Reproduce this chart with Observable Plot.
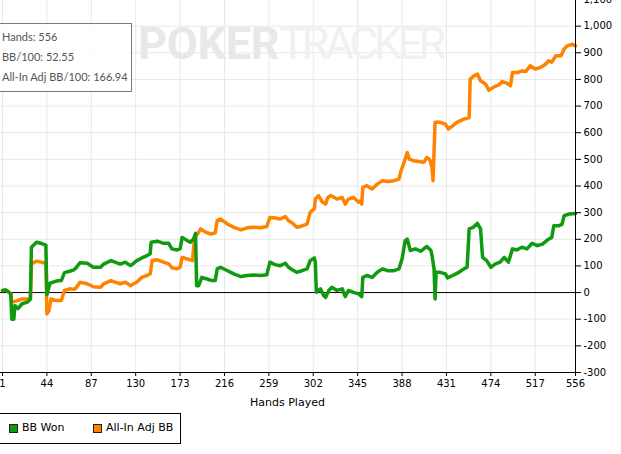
<!DOCTYPE html>
<html>
<head>
<meta charset="utf-8">
<script src="https://cdn.jsdelivr.net/npm/d3@7"></script>
<script src="https://cdn.jsdelivr.net/npm/@observablehq/plot@0.6"></script>
<style>
  html, body { margin: 0; padding: 0; background: #fff; }
  #wrap { position: relative; width: 621px; height: 454px; overflow: hidden; }
  #chart { position: absolute; left: 0; top: -1px; }
  .ov { position: absolute; font-family: "DejaVu Sans", sans-serif; }
</style>
</head>
<body>
<div id="wrap">
  <div id="chart"></div>
  <div class="ov" id="wm" style="left:138px; top:14px; font-family:Roboto, sans-serif; font-size:45px; white-space:nowrap; line-height:60px;">
    <span style="font-weight:bold; color:#e8e8e8; letter-spacing:-0.3px;">POKER</span><span style="color:#f1f1f1; letter-spacing:-4.6px;">TRACKER</span>
  </div>
  <div class="ov" id="stats" style="left:-1px; top:23px; width:133px; height:69px; border:1px solid #7a7a7a; background:rgba(255,255,255,0.85); font-family:Lato, sans-serif; font-size:11px; color:#555; box-sizing:border-box; padding-top:3px; padding-left:2px; line-height:20px; white-space:nowrap;"></div>
  <div class="ov" id="xlabel" style="left:0; width:575px; top:396px; text-align:center; font-size:11px; color:#000;"></div>
  <div class="ov" id="legend" style="left:-1px; top:413px; width:182px; height:31px; border:1px solid #000; box-sizing:border-box; font-size:11px; color:#000;"></div>
</div>
<script>
// ---- data ----
const seriesNames = ["BB Won", "All-In Adj BB"];
const seriesColors = ["#0f9a0f", "#ff8200"];
const xTicks = [1, 44, 87, 130, 173, 216, 259, 302, 345, 388, 431, 474, 517, 556];
const yTicks = [-300, -200, -100, 0, 100, 200, 300, 400, 500, 600, 700, 800, 900, 1000, 1100];
const statsLines = ["Hands: 556", "BB/100: 52.55", "All-In Adj BB/100: 166.94"];
const xLabel = "Hands Played";

const bbWonHands = [1,4,6,9,10,12,13,16,20,25,28,29,34,39,43,44,47,53,58,61,66,70,72,76,83,89,96,99,106,110,115,120,125,128,131,136,141,144,145,151,157,162,165,170,173,175,180,183,186,188,189,191,194,199,204,207,209,212,219,225,232,238,244,251,257,260,265,270,275,278,282,286,291,296,299,303,304,305,309,312,314,317,320,325,330,333,336,341,346,349,350,354,359,364,369,374,380,385,388,391,393,396,401,406,409,412,416,417,419,420,421,425,430,432,437,443,448,451,453,457,461,464,466,470,474,478,483,487,491,495,499,504,509,514,519,524,529,533,535,540,543,545,550,556];
const bbWonValues = [8,10,5,-5,-100,-100,-49,-60,-42,-36,-25,170,189,184,178,-8,35,43,45,75,80,85,92,112,110,95,95,107,120,114,107,114,101,110,120,130,139,145,189,193,185,185,164,160,164,207,195,189,201,222,26,26,57,51,45,45,89,95,82,70,60,64,66,64,67,114,105,101,110,95,85,76,82,89,120,130,114,1,14,-11,-18,8,20,8,14,-15,8,1,-5,-15,57,64,57,76,89,82,82,89,126,195,201,158,164,155,164,173,158,139,89,-24,76,76,70,55,64,76,89,95,239,245,260,239,132,120,95,107,114,132,114,164,160,170,164,185,176,182,198,207,251,251,257,289,295,297];

const adjHands = [1,4,6,9,10,13,16,20,28,29,34,39,43,44,46,48,53,58,61,66,70,72,76,83,89,96,99,106,110,115,120,125,128,131,136,141,144,146,151,157,162,165,170,173,175,180,185,187,190,193,198,203,207,209,212,219,225,232,238,244,251,257,260,265,270,275,278,282,286,291,296,299,303,304,307,311,314,316,319,325,330,333,336,341,346,348,349,350,354,359,364,369,374,380,385,387,390,393,395,399,404,409,412,415,417,418,420,425,430,433,437,441,448,453,454,458,461,464,469,472,477,482,485,489,493,495,500,504,508,512,517,522,527,530,533,537,542,545,548,553,556];
const adjValues = [8,10,5,-5,-36,-33,-30,-24,-24,107,118,114,110,-80,-68,-24,-30,-30,8,14,12,16,39,33,22,20,33,45,39,33,39,26,33,39,57,64,70,120,123,114,108,93,89,95,132,126,120,207,220,239,226,220,224,270,276,257,245,235,243,245,243,248,282,280,276,285,270,260,245,250,257,301,314,351,364,339,332,357,364,351,357,332,351,357,339,345,332,395,401,389,407,420,417,420,426,457,489,526,501,495,492,489,507,498,470,420,639,639,632,614,626,639,651,657,801,814,820,795,782,760,772,780,792,787,776,826,826,832,830,851,839,845,857,870,865,889,889,914,926,932,926];

// build tables
const bbWon = bbWonHands.map((h, i) => ({hand: h, bb: bbWonValues[i]}));
const adj = adjHands.map((h, i) => ({hand: h, bb: adjValues[i]}));

const fmt = d => (d < 0 ? "-" : "") + d3.format(",")(Math.abs(d));

const plot = Plot.plot({
  width: 621,
  height: 455,
  marginLeft: 0,
  marginRight: 46,
  marginTop: 0,
  marginBottom: 82,
  style: {fontFamily: "DejaVu Sans, sans-serif", fontSize: "10px", background: "transparent", color: "#000"},
  x: {domain: [-0.94, 556]},
  y: {domain: [-300, 1100]},
  marks: [
    Plot.gridX(xTicks, {stroke: "#e8e8e8", strokeOpacity: 1}),
    Plot.gridY(yTicks, {stroke: "#e8e8e8", strokeOpacity: 1}),
    Plot.ruleY([0], {stroke: "#000", strokeWidth: 1}),
    Plot.line(adj, {x: "hand", y: "bb", stroke: seriesColors[1], strokeWidth: 3.5, strokeLinejoin: "round"}),
    Plot.line(bbWon, {x: "hand", y: "bb", stroke: seriesColors[0], strokeWidth: 3.5, strokeLinejoin: "round"}),
    Plot.ruleY([-300], {stroke: "#000"}),
    Plot.ruleX([556], {stroke: "#000"}),
    Plot.axisX({ticks: xTicks, tickSize: 4, tickPadding: 3, tickFormat: d => String(d), label: null}),
    Plot.axisY({anchor: "right", ticks: yTicks, tickSize: 5, tickPadding: 3, tickFormat: fmt, label: null})
  ]
});
document.getElementById("chart").appendChild(plot);

// overlays
document.getElementById("stats").innerHTML = statsLines.map(s => `<div>${s}</div>`).join("");
document.getElementById("xlabel").textContent = xLabel;
document.getElementById("legend").innerHTML = seriesNames.map((n, i) =>
  `<span style="position:absolute; left:${i === 0 ? 9 : 93}px; top:10px; width:9px; height:9px; background:${seriesColors[i]}; border:1px solid #222; box-sizing:border-box;"></span>` +
  `<span style="position:absolute; left:${i === 0 ? 22 : 106}px; top:7px; line-height:14px; white-space:nowrap;">${n}</span>`
).join("");
</script>
</body>
</html>
